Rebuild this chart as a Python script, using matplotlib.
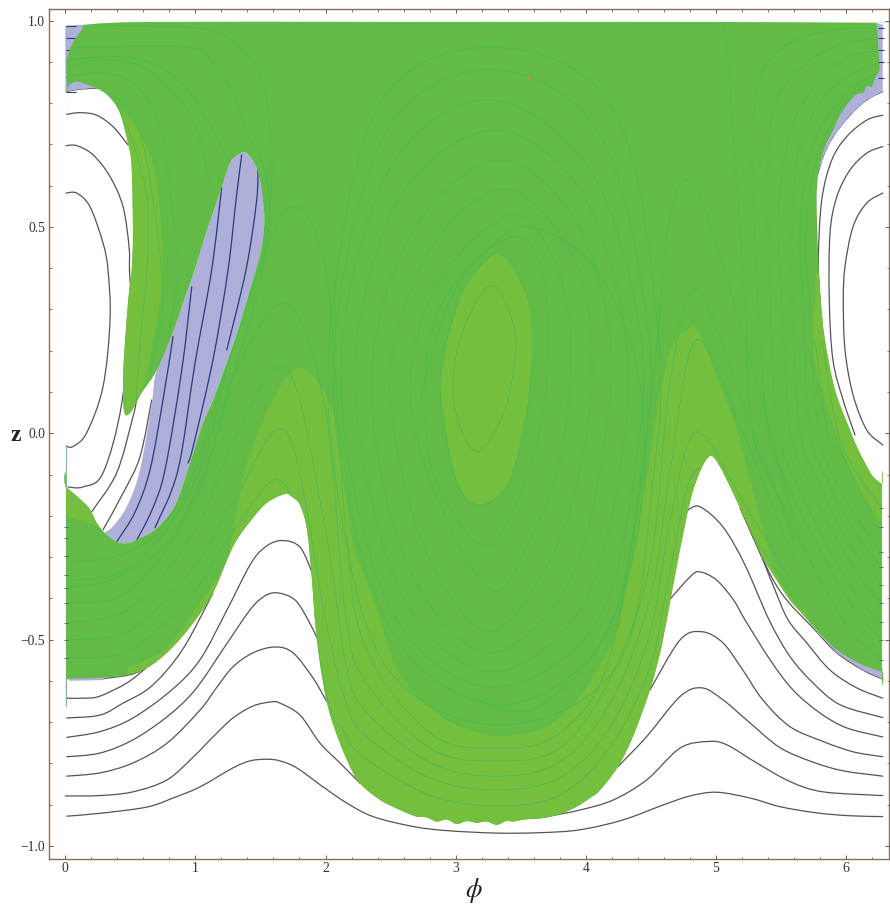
import matplotlib
matplotlib.use("Agg")
import matplotlib.pyplot as plt
from matplotlib.path import Path
from matplotlib.patches import PathPatch, Polygon
from matplotlib.ticker import MultipleLocator, FixedLocator

plt.rcParams['font.family'] = ['Liberation Serif', 'DejaVu Serif']
plt.rcParams['mathtext.fontset'] = 'stix'
plt.rcParams['axes.unicode_minus'] = True

# ---------- regions (phi, z) ----------
green_region = [(.19,.991),(.705,.997),(2.57,.997),(4.88,.997),(6.229,.995),(6.229,.995),(6.239,.982),(6.255,.905),(6.26,.880),(6.26,.880),(6.224,.861),(6.198,.839),(6.16,.842),(6.134,.825),(6.083,.822),(6.018,.800),(5.955,.771),(5.903,.735),(5.852,.704),(5.814,.670),(5.788,.631),(5.775,.573),(5.78,.500),(5.788,.420),(5.806,.323),(5.839,.226),(5.916,.105),(6.031,.008),(6.083,-.032),(6.147,-.072),(6.208,-.105),(6.277,-.123),(6.277,-.123),(6.277,-.578),(6.277,-.578),(6.131,-.562),(6.006,-.541),(5.90,-.517),(5.785,-.481),(5.67,-.440),(5.57,-.404),(5.468,-.356),(5.363,-.302),(5.263,-.234),(5.186,-.181),(5.109,-.129),(5.032,-.081),(4.968,-.055),(4.917,-.069),(4.863,-.105),(4.802,-.166),(4.709,-.307),(4.623,-.452),(4.571,-.533),(4.494,-.622),(4.363,-.735),(4.248,-.808),(4.11,-.865),(4.033,-.884),(3.931,-.905),(3.826,-.920),(3.687,-.932),(3.533,-.936),(3.441,-.941),(3.393,-.939),(3.316,-.949),(3.239,-.941),(3.162,-.944),(3.085,-.940),(3.008,-.947),(2.932,-.936),(2.855,-.941),(2.778,-.931),(2.70,-.929),(2.624,-.920),(2.442,-.893),(2.317,-.864),(2.227,-.832),(2.111,-.751),(2.019,-.663),(1.958,-.557),(1.919,-.453),(1.896,-.356),(1.858,-.234),(1.804,-.174),(1.742,-.154),(1.689,-.147),(1.548,-.169),(1.42,-.214),(1.289,-.275),(1.135,-.387),(.982,-.460),(.805,-.525),(.626,-.569),(.444,-.588),(.241,-.593),(.036,-.595),(.005,-.602),(.005,-.602),(.005,-.130),(.005,-.130),(.174,-.178),(.241,-.217),(.305,-.242),(.395,-.263),(.482,-.266),(.574,-.254),(.703,-.230),(.843,-.174),(.958,-.072),(1.058,.025),(1.135,.081),(1.304,.226),(1.42,.347),(1.512,.456),(1.527,.541),(1.481,.633),(1.394,.679),(1.328,.675),(1.266,.655),(1.202,.595),(1.135,.534),(1.058,.461),(.996,.396),(.919,.328),(.843,.258),(.703,.153),(.587,.098),(.497,.049),(.451,.056),(.446,.153),(.482,.316),(.51,.396),(.52,.485),(.51,.645),(.482,.703),(.42,.776),(.345,.813),(.267,.832),(.174,.844),(.088,.852),(.021,.837),(.011,.776),(.011,.776),(.014,.837),(.011,.905),(.059,.946),(.126,.977)]

blue_lobe = [(.305,-.242),(.363,-.227),(.472,-.178),(.574,-.089),(.664,.073),(.703,.153),(.843,.258),(.919,.328),(.996,.396),(1.058,.461),(1.135,.534),(1.202,.595),(1.266,.655),(1.328,.675),(1.394,.679),(1.481,.633),(1.527,.541),(1.512,.456),(1.42,.347),(1.304,.226),(1.135,.081),(1.058,.025),(.958,-.072),(.843,-.174),(.703,-.23),(.574,-.254),(.482,-.266),(.395,-.263)]
blue_top_left = [(0,.988),(.19,.991),(.267,.9),(.3,.835),(.267,.838),(.113,.834),(.005,.828),(0,.828)]
blue_top_right = [(6.229,.995),(6.283,.99),(6.283,.828),(6.16,.808),(6.031,.771),(5.901,.719),(5.824,.670),(5.786,.631),(5.8,.7),(6.1,.9)]
blue_low_right = [(5.775,-.481),(5.93,-.532),(6.131,-.574),(6.283,-.596),(6.283,-.57),(6.0,-.5)]
blue_low_left = [(.03,-.58),(.3,-.58),(.3,-.598),(.03,-.6)]

light_oval = [(3.364,.432),(3.533,.347),(3.595,.243),(3.557,.073),(3.418,-.113),(3.188,-.174),(3.011,-.120),(2.893,.064),(2.903,.178),(3.034,.330),(3.211,.413)]
light_band = [(.474,-.581),(.574,-.557),(.782,-.518),(1.012,-.421),(1.243,-.300),(1.381,-.089),(1.573,.069),(1.781,.158),(1.958,.117),(2.073,.032),(2.15,-.113),(2.204,-.259),(2.342,-.380),(2.419,-.452),(2.519,-.549),(2.673,-.629),(2.932,-.695),(3.188,-.726),(3.441,-.731),(3.70,-.711),(3.956,-.638),(4.161,-.532),(4.264,-.452),(4.456,-.137),(4.56,.08),(4.66,.21),(4.78,.25),(4.86,.25),(5.032,.117),(5.161,.008),(5.263,-.113),(5.391,-.259),(5.494,-.356),(5.647,-.428),(5.70,-.452),(5.7,-.75),(3.3,-1.0),(.4,-.75)]
light_tongue = [(.267,.808),(.383,.796),(.536,.747),(.666,.662),(.72,.565),(.751,.396),(.72,.3),(.63,.153),(.56,.075),(.497,.03),(.40,.032),(.344,.323),(.344,.687)]
light_wedge = [(-.05,-.1),(.2,-.15),(.3,-.22),(.151,-.215),(.005,-.191)]
light_right = [(5.83,.36),(6.35,-.1),(6.35,-.234),(6.277,-.234),(6.108,-.137),(5.955,-.028),(5.839,.081),(5.739,.202),(5.762,.323)]

# ---------- dark curves in the white areas ----------
arc_t1 = [(.005,.828),(.113,.834),(.267,.837)]
arc_t2 = [(.011,.773),(.113,.777),(.241,.771),(.367,.743),(.482,.699)]
arc_t2b = [(.597,.141),(.549,.081),(.52,.040),(.395,-.096),(.203,-.190)]
arc_t3 = [(.005,.697),(.088,.697),(.213,.675),(.344,.622),(.444,.549),(.49,.452),(.493,.396),(.497,.316),(.434,.073),(.29,-.096),(.136,-.130),(.021,-.130)]
arc_t4 = [(.005,.582),(.088,.582),(.19,.549),(.29,.461),(.328,.396),(.344,.275),(.29,.113),(.164,.001),(.059,-.032),(.005,-.031)]
arc_edge = [(.664,.081),(.574,-.057),(.444,-.145),(.29,-.234)]
arc_r1 = [(6.283,.828),(6.16,.808),(6.031,.771),(5.901,.719),(5.824,.670),(5.786,.631)]
arc_r2 = [(6.283,.771),(6.16,.759),(6.006,.719),(5.891,.662),(5.814,.565),(5.788,.420),(5.80,.323)]
arc_r3 = [(6.283,.695),(6.16,.679),(6.031,.638),(5.93,.573),(5.878,.485),(5.872,.323),(5.90,.178),(5.978,.081),(6.07,-.004)]
arc_r4 = [(6.283,.582),(6.16,.558),(6.055,.501),(5.993,.404),(5.98,.323),(5.993,.202),(6.055,.093),(6.16,.008),(6.283,-.028)]
low_l679 = [(.036,-.596),(.267,-.595),(.5,-.585),(.62,-.569)]
low_l698 = [(.005,-.642),(.151,-.642),(.267,-.637),(.474,-.605),(.62,-.569)]
low_l718 = [(.011,-.690),(.267,-.683),(.444,-.654),(.626,-.622),(.782,-.574),(.933,-.508),(1.135,-.387)]
low_l737 = [(.011,-.737),(.267,-.723),(.520,-.690),(.818,-.622),(1.035,-.549),(1.235,-.433),(1.42,-.319),(1.535,-.276),(1.663,-.260),(1.804,-.276),(1.904,-.343)]
low_l757 = [(.011,-.784),(.267,-.775),(.52,-.743),(.782,-.687),(.997,-.622),(1.235,-.513),(1.42,-.428),(1.535,-.394),(1.635,-.387),(1.766,-.404),(1.866,-.452),(1.942,-.501)]
low_l776 = [(.011,-.831),(.267,-.823),(.52,-.799),(.782,-.751),(1.035,-.671),(1.166,-.615),(1.289,-.566),(1.443,-.532),(1.612,-.518),(1.75,-.532),(1.904,-.593),(2.009,-.650)]
low_l796 = [(0,-.879),(.267,-.878),(.52,-.869),(.782,-.840),(.982,-.785),(1.135,-.736),(1.289,-.690),(1.443,-.661),(1.586,-.651),(1.65,-.654),(1.804,-.683),(1.958,-.751),(2.111,-.799),(2.265,-.848)]
low_l816 = [(.011,-.928),(.267,-.921),(.626,-.906),(.828,-.884),(1.035,-.857),(1.289,-.811),(1.42,-.794),(1.548,-.790),(1.65,-.794),(1.779,-.811),(1.981,-.857),(2.163,-.896),(2.365,-.929),(2.673,-.953),(2.932,-.963),(3.316,-.969),(3.649,-.968),(3.956,-.961),(4.287,-.937),(4.594,-.901),(4.802,-.879),(5.007,-.870),(5.263,-.884),(5.494,-.905),(5.775,-.920),(6.031,-.927),(6.283,-.929)]
low_r679 = [(5.186,-.181),(5.468,-.37),(5.775,-.481),(5.93,-.532),(6.131,-.574),(6.283,-.596)]
low_r698 = [(5.363,-.307),(5.455,-.380),(5.555,-.452),(5.699,-.508),(5.878,-.574),(6.083,-.617),(6.283,-.642)]
low_r718 = [(4.786,-.186),(4.878,-.178),(5.055,-.227),(5.224,-.319),(5.409,-.452),(5.57,-.541),(5.747,-.605),(5.955,-.658),(6.283,-.689)]
low_r737 = [(4.609,-.416),(4.802,-.348),(4.878,-.336),(5.007,-.356),(5.136,-.404),(5.224,-.452),(5.417,-.549),(5.593,-.622),(5.801,-.678),(6.006,-.714),(6.283,-.736)]
low_r757 = [(4.494,-.622),(4.725,-.501),(4.892,-.481),(5.055,-.508),(5.208,-.574),(5.361,-.646),(5.57,-.711),(5.824,-.747),(6.055,-.772),(6.283,-.784)]
low_r776 = [(4.248,-.808),(4.469,-.735),(4.725,-.638),(4.892,-.617),(5.055,-.646),(5.263,-.702),(5.494,-.762),(5.747,-.797),(5.978,-.818),(6.283,-.831)]
low_r796 = [(3.687,-.930),(3.956,-.913),(4.21,-.889),(4.469,-.840),(4.725,-.763),(4.94,-.747),(5.084,-.755),(5.314,-.799),(5.57,-.844),(5.824,-.869),(6.283,-.878)]

# ---------- navy curves inside the blue lobe ----------
lobe_n1 = [(.828,.234),(.751,.081),(.651,-.089),(.536,-.191),(.395,-.263)]
lobe_n2 = [(.972,.355),(.895,.153),(.766,-.089),(.666,-.186),(.549,-.259)]
lobe_n3 = [(1.202,.595),(1.125,.396),(.997,.170),(.866,-.089),(.689,-.229)]
lobe_n4 = [(1.356,.675),(1.312,.565),(1.251,.396),(1.135,.178),(.982,-.033),(.943,-.072)]
lobe_n5 = [(1.481,.655),(1.471,.565),(1.389,.396),(1.241,.202)]
lobe_red = [(1.481,.655),(1.511,.602),(1.535,.541)]
edge_z_left = [.986,.958,.930,.905,.864,.828]
edge_z_right = [.982,.958,.929,.900,.861]
edge_z_mid_left = [-.226,-.254,-.297,-.343,-.375,-.411,-.460,-.501,-.545]
edge_z_mid_right = [-.181,-.227,-.288,-.324,-.368,-.411,-.457,-.501,-.549]
orange_dot = (3.565,.864)

# ---------- green contours ----------
wave_phi = [.005,.5,1.0,1.3,1.7,2.0,2.15,2.3,2.8,3.3,3.8,4.2,4.5,4.65,4.85,5.2,5.6]
wave_1 = [-.545,-.525,-.380,-.234,-.130,-.622,-.727,-.787,-.877,-.903,-.877,-.755,-.561,-.331,-.089,-.210,-.404]
wave_2 = [-.501,-.477,-.319,-.162,.003,-.452,-.646,-.731,-.835,-.864,-.835,-.707,-.477,-.210,.003,-.162,-.368]
wave_3 = [-.460,-.423,-.234,-.016,.158,-.234,-.549,-.671,-.797,-.831,-.797,-.646,-.392,-.089,.226,.008,-.307]
wave_4 = [-.411,-.380,-.162,.141,.316,.056,-.428,-.598,-.763,-.794,-.763,-.586,-.307,.129,.347,.081,-.259]
wave_5 = [-.375,-.331,-.113,.214,.541,.396,-.210,-.513,-.726,-.763,-.726,-.525,.081,.529,.590,.250,-.210]

oval_1 = [(3.277,.359),(3.434,.275),(3.457,.195),(3.38,.056),(3.172,-.045),(3.018,.032),(2.98,.136),(3.072,.262)]
oval_3 = [(3.495,.476),(3.649,.408),(3.71,.25),(3.633,-.016),(3.265,-.271),(2.88,-.137),(2.765,.032),(2.804,.226),(2.957,.347),(3.226,.44)]
oval_4 = [(3.418,.529),(3.726,.44),(3.88,.25),(3.818,-.04),(3.572,-.258),(3.265,-.38),(2.804,-.113),(2.65,.129),(2.88,.372)]
oval_5 = [(3.418,.59),(3.918,.42),(4.048,.178),(3.956,-.089),(3.726,-.307),(3.265,-.482),(2.804,-.307),(2.534,-.016),(2.534,.226),(2.88,.481)]
oval_6 = [(3.341,.662),(3.918,.517),(4.187,.226),(4.11,-.089),(3.841,-.38),(3.265,-.532),(2.727,-.38),(2.419,-.089),(2.381,.226),(2.727,.517)]
oval_7 = [(3.303,.735),(3.956,.59),(4.302,.25),(4.264,-.089),(3.956,-.428),(3.287,-.578),(2.65,-.428),(2.304,-.089),(2.25,.25),(2.611,.59)]
oval_8 = [(3.265,.808),(4.033,.638),(4.417,.25),(4.379,-.089),(4.071,-.465),(3.287,-.615),(2.573,-.465),(2.188,-.089),(2.15,.275),(2.534,.662)]
oval_9 = [(3.303,.881),(4.11,.723),(4.479,.25),(4.44,-.089),(4.133,-.501),(3.341,-.658),(2.55,-.501),(2.127,-.089),(2.096,.299),(2.496,.747)]
oval_10 = [(3.341,.935),(4.225,.779),(4.556,.25),(4.517,-.113),(4.248,-.561),(3.341,-.707),(2.457,-.561),(2.08,-.113),(2.05,.299),(2.434,.808)]
cross_arch = [(2.727,.081),(2.957,.323),(3.341,.473),(3.61,.498),(4.033,.415),(4.34,.226),(4.456,-.04),(4.34,-.331),(4.033,-.549),(3.572,-.671),(3.17,-.646)]

top_1 = [(.19,.989),(1.035,.982),(1.289,.948),(1.473,.880),(1.558,.784),(1.589,.645),(1.558,.534),(1.42,.347),(1.228,.153),(.997,-.089),(.689,-.246),(.344,-.302),(.005,-.311)]
top_2 = [(.011,.934),(.935,.936),(1.135,.897),(1.289,.825),(1.396,.728),(1.512,.655),(1.573,.541),(1.481,.347),(1.304,.153),(1.074,-.089),(.766,-.271),(.382,-.343),(.005,-.356)]
top_3 = [(.011,.905),(.444,.912),(.728,.888),(.958,.825),(1.135,.735),(1.266,.655)]
top_4 = [(.011,.886),(.267,.905),(.597,.888),(.859,.815),(1.012,.735),(1.112,.597)]
top_5 = [(.011,.864),(.267,.873),(.52,.849),(.728,.747),(.828,.524),(.866,.396),(.805,.25)]
top_6 = [(.267,.832),(.444,.801),(.574,.728),(.674,.565),(.751,.323),(.651,.153)]
top_7 = [(.328,.820),(.42,.784),(.536,.687),(.628,.565),(.628,.396),(.574,.226),(.543,.073)]
right_0 = [(5.048,.990),(5.086,.946),(5.132,.728),(5.224,.323),(5.278,.008),(5.494,-.162),(5.763,-.331),(6.031,-.477),(6.277,-.549)]
right_1 = [(6.275,.982),(5.901,.978),(5.57,.946),(5.363,.880),(5.286,.767),(5.278,.645),(5.324,.323),(5.401,.008),(5.57,-.137),(5.80,-.283),(6.069,-.428),(6.277,-.501)]
right_2 = [(6.275,.958),(6.008,.946),(5.724,.905),(5.47,.808),(5.401,.645),(5.417,.323),(5.478,.008),(5.647,-.137),(5.878,-.283),(6.108,-.404),(6.277,-.457)]
right_3 = [(6.275,.929),(6.008,.910),(5.778,.849),(5.57,.728),(5.478,.524),(5.509,.323),(5.57,.008),(5.74,-.137),(5.955,-.271),(6.147,-.368),(6.277,-.411)]
right_4 = [(6.275,.900),(6.008,.864),(5.778,.791),(5.624,.662),(5.586,.485),(5.586,.323),(5.647,.008),(5.816,-.137),(6.031,-.271),(6.277,-.368)]
right_5 = [(6.275,.880),(6.031,.832),(5.824,.752),(5.701,.645),(5.647,.485),(5.67,.323),(5.724,.008),(5.893,-.137),(6.108,-.259),(6.277,-.324)]
right_6 = [(6.247,.861),(6.031,.815),(5.855,.728),(5.74,.614),(5.686,.444),(5.724,.323),(5.786,.008),(5.955,-.137),(6.147,-.234),(6.277,-.288)]
right_7 = [(5.762,.226),(5.855,.008),(5.993,-.065),(6.147,-.162),(6.277,-.227)]
right_8 = [(5.816,.226),(5.932,.008),(6.069,-.089),(6.277,-.181)]

x_major = [0, 1, 2, 3, 4, 5, 6]
y_major = [-1.0, -0.5, 0.0, 0.5, 1.0]
x_name = r'$\phi$'
y_name = 'z'

GREEN, LIGHT, LINE = '#62BB47', '#75BF3F', '#50B94D'
BLUE, NAVY, DARK, FRAME, TEXT = '#AEB0DA', '#2C3A78', '#585353', '#8A6B60', '#333333'


def smooth(pts, closed=False):
    """Path through the read points, drawn with Bezier segments."""
    n = len(pts)
    if closed:
        g = lambda i: pts[i % n]
        m = n
    else:
        g = lambda i: pts[min(max(i, 0), n - 1)]
        m = n - 1
    verts, codes = [pts[0]], [Path.MOVETO]
    for i in range(m):
        p0, p1, p2, p3 = g(i - 1), g(i), g(i + 1), g(i + 2)
        verts += [(p1[0] + (p2[0] - p0[0]) / 6, p1[1] + (p2[1] - p0[1]) / 6),
                  (p2[0] - (p3[0] - p1[0]) / 6, p2[1] - (p3[1] - p1[1]) / 6),
                  p2]
        codes += [Path.CURVE4] * 3
    return Path(verts, codes)


fig = plt.figure(figsize=(8.9, 9.06), dpi=100)
ax = fig.add_axes([48.7 / 890, 1 - 859 / 906, (889.5 - 48.7) / 890, (859 - 8.7) / 906])
ax.set_xlim(-0.1276, 6.335)
ax.set_ylim(-1.0318, 1.029)


def curve(pts, color, lw, z, clip=None, closed=False, **kw):
    p = PathPatch(smooth(pts, closed), fill=False, edgecolor=color, lw=lw, zorder=z, capstyle='round', **kw)
    ax.add_patch(p)
    if clip is not None:
        p.set_clip_path(clip)
    return p


def area(pts, color, z, clip=None):
    p = PathPatch(smooth(pts, True), facecolor=color, edgecolor='none', zorder=z)
    ax.add_patch(p)
    if clip is not None:
        p.set_clip_path(clip)
    return p


for arc in [arc_t1, arc_t2, arc_t2b, arc_t3, arc_t4, arc_edge, arc_r1, arc_r2, arc_r3, arc_r4,
            low_l679, low_l698, low_l718, low_l737, low_l757, low_l776, low_l796, low_l816,
            low_r679, low_r698, low_r718, low_r737, low_r757, low_r776, low_r796]:
    curve(arc, DARK, 0.9, 2)

for region in [blue_top_left, blue_top_right, blue_low_right, blue_low_left]:
    ax.add_patch(Polygon(region, closed=True, facecolor=BLUE, edgecolor='none', zorder=3))
area(blue_lobe, BLUE, 3)

for line in [lobe_n1, lobe_n2, lobe_n3, lobe_n4, lobe_n5]:
    curve(line, NAVY, 0.9, 4)
curve(lobe_red, '#E2404A', 1.0, 4.5, linestyle=(0, (2, 1)))

ax.plot([0.004, 0.004], [-0.66, -0.03], color='#7FB6B0', lw=0.8, zorder=4)
ax.plot([0.04] * len(edge_z_left), edge_z_left, ls='none', marker='_', ms=7, mew=0.8, color=NAVY, zorder=4)
ax.plot([6.27] * len(edge_z_right), edge_z_right, ls='none', marker='_', ms=4, mew=0.8, color=NAVY, zorder=7)

green = area(green_region, GREEN, 5)

for region in [light_band, light_tongue, light_wedge, light_right]:
    area(region, LIGHT, 5.5, clip=green)
area(light_oval, LIGHT, 5.5)

for wave in [wave_1, wave_2, wave_3, wave_4, wave_5]:
    curve(list(zip(wave_phi, wave)), LINE, 0.65, 6, clip=green)
for line in [top_1, top_2, top_3, top_4, top_5, top_6, top_7, cross_arch,
             right_0, right_1, right_2, right_3, right_4, right_5, right_6, right_7, right_8]:
    curve(line, LINE, 0.65, 6, clip=green)
for oval in [oval_1, light_oval, oval_3, oval_4, oval_5, oval_6, oval_7, oval_8, oval_9, oval_10]:
    curve(oval, LINE, 0.65, 6, clip=green, closed=True)

ax.plot([0.008] * len(edge_z_mid_left), edge_z_mid_left, ls='none', marker='_', ms=2.5, mew=0.7, color='#3F7F70', zorder=7)
ax.plot([6.27] * len(edge_z_mid_right), edge_z_mid_right, ls='none', marker='_', ms=2.5, mew=0.7, color='#3F7F70', zorder=7)
ax.plot([orange_dot[0]], [orange_dot[1]], ls='none', marker='o', ms=2.2, color='#E08A2E', mew=0, zorder=8)

for s in ax.spines.values():
    s.set_color(FRAME)
    s.set_linewidth(1.0)
    s.set_zorder(10)
ax.xaxis.set_major_locator(FixedLocator(x_major))
ax.yaxis.set_major_locator(FixedLocator(y_major))
ax.xaxis.set_minor_locator(MultipleLocator(0.2))
ax.yaxis.set_minor_locator(MultipleLocator(0.1))
ax.set_xticklabels([str(v) for v in x_major])
ax.set_yticklabels(['\u2212%.1f' % abs(v) if v < 0 else '%.1f' % v for v in y_major])
ax.tick_params(which='major', direction='in', top=True, right=True, length=3.2, width=0.6, color='#444444',
               labelsize=9.8, labelcolor=TEXT, pad=2.5)
ax.tick_params(which='minor', direction='in', top=True, right=True, length=1.8, width=0.5, color='#444444')
ax.set_xlabel(x_name, fontsize=19, color='#222222')
ax.xaxis.set_label_coords(0.506, -0.0365)
ax.xaxis.label.set_verticalalignment('center')
ax.set_ylabel(y_name, rotation=0, fontsize=17, fontweight='bold', color='#222222', va='center', ha='center')
ax.yaxis.set_label_coords(-0.0389, 0.4975)

fig.savefig('out.png', dpi=100)
